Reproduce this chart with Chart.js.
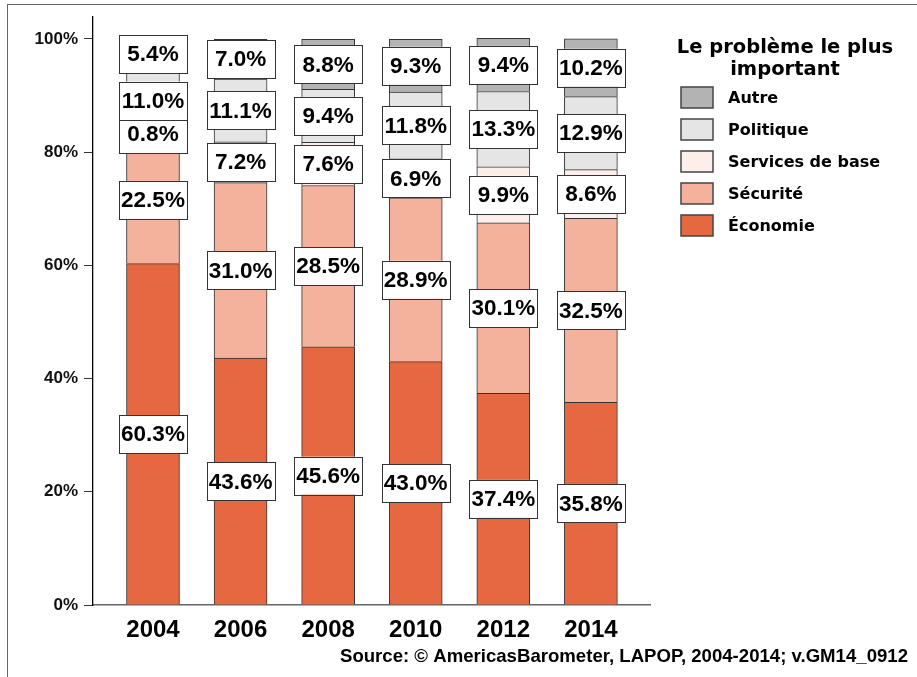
<!DOCTYPE html>
<html>
<head>
<meta charset="utf-8">
<script src="https://cdn.jsdelivr.net/npm/chart.js@4/dist/chart.umd.min.js"></script>
<style>
  body { margin: 0; background: #fff; }
  #frame { position: absolute; left: 7px; top: 4px; width: 1000px; height: 1000px;
           border-left: 1px solid #666; border-top: 1px solid #666; }
  #chart { position: absolute; left: 0; top: 0; }
</style>
</head>
<body>
<div id="frame"></div>
<canvas id="chart" width="917" height="677"></canvas>
<script>
// data
const years = [2004, 2006, 2008, 2010, 2012, 2014];
const economie = [60.3, 43.6, 45.6, 43.0, 37.4, 35.8];
const securite = [22.5, 31.0, 28.5, 28.9, 30.1, 32.5];
const services = [0.8, 7.2, 7.6, 6.9, 9.9, 8.6];
const politique = [11.0, 11.1, 9.4, 11.8, 13.3, 12.9];
const autre = [5.4, 7.0, 8.8, 9.3, 9.4, 10.2];
const yTicks = [0, 20, 40, 60, 80, 100];

const seriesNames = ['Économie', 'Sécurité', 'Services de base', 'Politique', 'Autre'];
const seriesValues = [economie, securite, services, politique, autre];
const seriesColors = ['#e66841', '#f4b19c', '#fcefeb', '#e5e5e5', '#b3b3b3'];

const legendTitle = ['Le problème le plus', 'important'];
const sourceText = 'Source: \u00A9 AmericasBarometer, LAPOP, 2004-2014; v.GM14_0912';

const ARIAL = '"Liberation Sans", Arial, sans-serif';
const DEJAVU = '"DejaVu Sans", sans-serif';

// white boxed value labels in the middle of each segment
const boxLabels = {
  id: 'boxLabels',
  afterDatasetsDraw(chart) {
    const ctx = chart.ctx;
    ctx.save();
    ctx.font = 'bold 22.5px ' + ARIAL;
    ctx.textAlign = 'center';
    ctx.textBaseline = 'middle';
    chart.data.datasets.forEach((ds, i) => {
      const meta = chart.getDatasetMeta(i);
      meta.data.forEach((bar, j) => {
        const cx = bar.x;
        const cy = (bar.y + bar.base) / 2;
        const w = 68, h = 38;
        ctx.fillStyle = '#fff';
        ctx.fillRect(cx - w / 2, cy - h / 2, w, h);
        ctx.strokeStyle = '#333';
        ctx.lineWidth = 1;
        ctx.strokeRect(Math.round(cx - w / 2) + 0.5, Math.round(cy - h / 2) + 0.5, w, h);
        ctx.fillStyle = '#000';
        ctx.fillText(ds.data[j].y.toFixed(1) + '%', cx, cy + 1);
      });
    });
    ctx.restore();
  }
};

// legend on the right + source line
const sideLegend = {
  id: 'sideLegend',
  afterDraw(chart) {
    const ctx = chart.ctx;
    ctx.save();
    ctx.fillStyle = '#000';
    ctx.textAlign = 'center';
    ctx.textBaseline = 'alphabetic';
    ctx.font = 'bold 19.5px ' + DEJAVU;
    legendTitle.forEach((t, k) => ctx.fillText(t, 785, 53 + k * 22));

    ctx.font = 'bold 16px ' + DEJAVU;
    ctx.textAlign = 'left';
    ctx.textBaseline = 'middle';
    const items = chart.data.datasets.slice().reverse();
    items.forEach((ds, k) => {
      const cy = 97.5 + k * 32;
      ctx.fillStyle = ds.backgroundColor;
      ctx.fillRect(681, cy - 10.5, 32, 21);
      ctx.strokeStyle = '#444';
      ctx.lineWidth = 1.5;
      ctx.strokeRect(681, cy - 10.5, 32, 21);
      ctx.fillStyle = '#000';
      ctx.fillText(ds.label, 728, cy + 1);
    });

    ctx.font = 'bold 18.6px ' + ARIAL;
    ctx.textAlign = 'right';
    ctx.textBaseline = 'alphabetic';
    ctx.fillText(sourceText, 908, 662);
    ctx.restore();
  }
};

new Chart(document.getElementById('chart'), {
  type: 'bar',
  data: {
    datasets: seriesNames.map((name, i) => ({
      label: name,
      data: years.map((yr, j) => ({ x: yr, y: seriesValues[i][j] })),
      backgroundColor: seriesColors[i],
      borderColor: '#333',
      borderWidth: 1,
      barThickness: 53
    }))
  },
  options: {
    responsive: false,
    animation: false,
    events: [],
    layout: { padding: { top: 15, right: 267, left: 0, bottom: 0 } },
    plugins: { legend: { display: false }, tooltip: { enabled: false } },
    scales: {
      x: {
        type: 'linear',
        stacked: true,
        offset: false,
        min: years[0] - 1.37,
        max: years[years.length - 1] + 1.35,
        afterBuildTicks: s => { s.ticks = years.map(v => ({ value: v })); },
        afterFit: s => { s.height = 72; },
        grid: { display: true, drawOnChartArea: false, drawTicks: false },
        border: { display: true, color: '#666', width: 1.5 },
        ticks: {
          autoSkip: false,
          maxRotation: 0,
          padding: 11,
          color: '#000',
          font: { family: ARIAL, size: 24, weight: 'bold' },
          callback: v => String(v)
        }
      },
      y: {
        stacked: true,
        min: 0,
        max: 104,
        afterBuildTicks: s => { s.ticks = yTicks.map(v => ({ value: v })); },
        afterFit: s => { s.width = 93; },
        grid: { display: true, drawOnChartArea: false, drawTicks: true, tickLength: 9, color: '#333' },
        border: { display: true, color: '#000', width: 1.3 },
        ticks: {
          padding: 6,
          color: '#111',
          font: { family: ARIAL, size: 17, weight: 'bold' },
          callback: v => v + '%'
        }
      }
    }
  },
  plugins: [boxLabels, sideLegend]
});
</script>
</body>
</html>
